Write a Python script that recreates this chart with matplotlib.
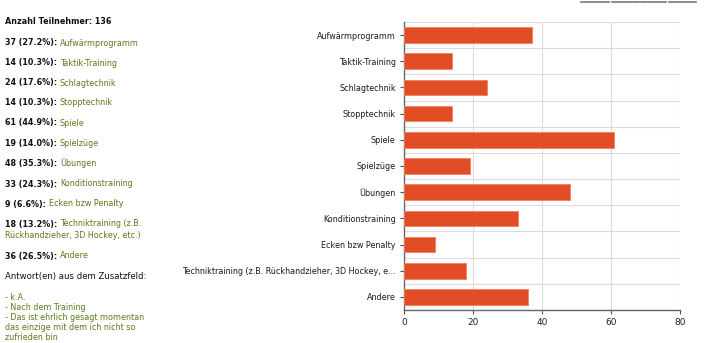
import matplotlib
matplotlib.use("Agg")
import matplotlib.pyplot as plt
from matplotlib.lines import Line2D

categories = ["Aufwärmprogramm", "Taktik-Training", "Schlagtechnik", "Stopptechnik",
              "Spiele", "Spielzüge", "Übungen", "Konditionstraining",
              "Ecken bzw Penalty", "Techniktraining (z.B. Rückhandzieher, 3D Hockey, e...",
              "Andere"]
values = [37, 14, 24, 14, 61, 19, 48, 33, 9, 18, 36]
percents = ["27.2", "10.3", "17.6", "10.3", "44.9", "14.0", "35.3", "24.3", "6.6", "13.2", "26.5"]
legend_labels = ["Aufwärmprogramm", "Taktik-Training", "Schlagtechnik", "Stopptechnik",
                 "Spiele", "Spielzüge", "Übungen", "Konditionstraining",
                 "Ecken bzw Penalty", "Techniktraining (z.B.\nRückhandzieher, 3D Hockey, etc.)",
                 "Andere"]
total = 136
extra_answers = ["- k.A.", "- Nach dem Training",
                 "- Das ist ehrlich gesagt momentan\ndas einzige mit dem ich nicht so\nzufrieden bin"]
xticks = [0, 20, 40, 60, 80]

W, H = 720, 343
fig = plt.figure(figsize=(7.2, 3.43), dpi=100)
fig.patch.set_facecolor("white")

ax = fig.add_axes([404 / W, 1 - 310 / H, 276 / W, 288 / H])
ypos = list(range(len(categories)))
ax.barh(ypos, values, height=0.6, color="#E14D24", edgecolor="#F08060", linewidth=0.6, zorder=3)
ax.set_ylim(len(categories) - 0.5, -0.5)
ax.set_xlim(0, 80)
ax.set_xticks(xticks)
ax.set_xticklabels([str(t) for t in xticks], fontsize=6.5, color="#222222")
ax.set_yticks(ypos)
ax.set_yticklabels(categories, fontsize=5.8, color="#1a1a1a")
ax.set_yticks([i + 0.5 for i in range(-1, len(categories))], minor=True)
ax.grid(axis="x", color="#dddddd", linewidth=0.8, zorder=0)
ax.grid(axis="y", which="minor", color="#dddddd", linewidth=0.8, zorder=0)
ax.tick_params(axis="y", which="minor", length=0)
ax.tick_params(axis="y", which="major", length=3, width=0.8, color="#555555", pad=3)
ax.tick_params(axis="x", length=3, width=0.8, color="#555555", pad=3)
for s in ["top", "right"]:
    ax.spines[s].set_visible(False)
for s in ["left", "bottom"]:
    ax.spines[s].set_color("#666666")
    ax.spines[s].set_linewidth(1.0)

# Left text panel
fs = 5.8
green = "#5a7a1c"
dark = "#111111"
fig.canvas.draw()
renderer = fig.canvas.get_renderer()

def y_of(px):
    return 1 - px / H

x0 = 5 / W
fig.text(x0, y_of(22), f"Anzahl Teilnehmer: {total}", fontsize=fs, fontweight="bold",
         color=dark, va="center", ha="left")
row_y = [43, 63, 83, 103, 123, 143, 163, 184, 204, 224, 256]
for v, p, lab, yy in zip(values, percents, legend_labels, row_y):
    t1 = fig.text(x0, y_of(yy), f"{v} ({p}%): ", fontsize=fs, fontweight="semibold",
                  color=dark, va="center", ha="left")
    bb = t1.get_window_extent(renderer)
    if "\n" in lab:
        first, rest = lab.split("\n", 1)
        fig.text(bb.x1 / W, y_of(yy), first, fontsize=fs, color=green, va="center", ha="left")
        fig.text(x0, y_of(yy + 11), rest, fontsize=fs, color=green, va="center", ha="left")
    else:
        fig.text(bb.x1 / W, y_of(yy), lab, fontsize=fs, color=green, va="center", ha="left")

fig.text(x0, y_of(276), "Antwort(en) aus dem Zusatzfeld:", fontsize=fs + 0.3, color=dark,
         va="center", ha="left")
fig.text(x0, y_of(293), "\n".join(extra_answers), fontsize=fs, color=green,
         va="top", ha="left", linespacing=1.14)

# decorative toolbar lines at top right
for xa, xb in [(581, 609), (612, 639), (641, 666), (669, 696)]:
    fig.add_artist(Line2D([xa / W, xb / W], [y_of(2), y_of(2)], color="#777777",
                          linewidth=1.2, transform=fig.transFigure))

fig.savefig("out.png", dpi=100, facecolor="white")
